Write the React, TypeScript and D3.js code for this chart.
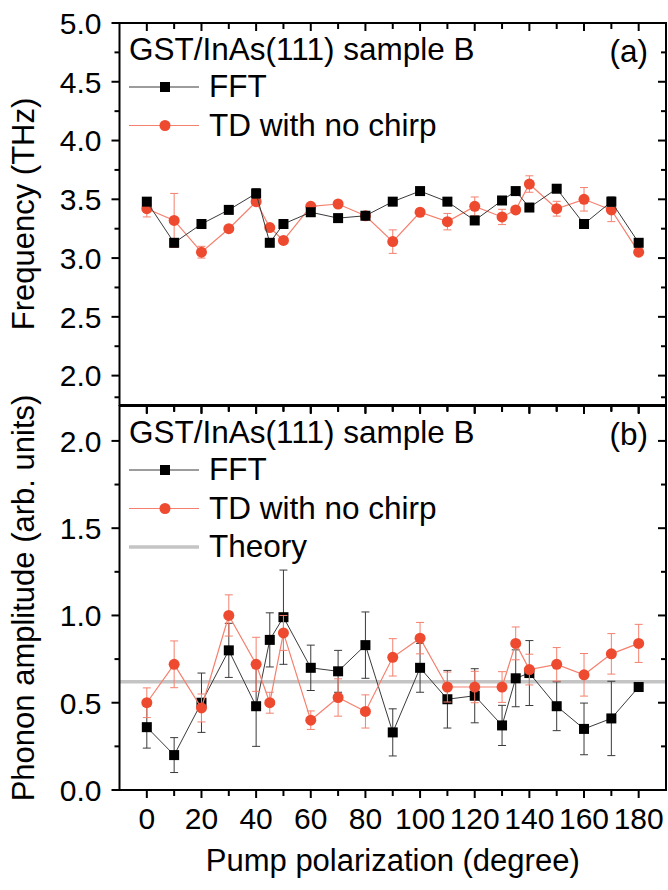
import React from 'react';
import * as d3 from 'd3';

const width = 668;
const height = 890;
const font = "'Liberation Sans', Arial, sans-serif";

// pump polarization angles (degree)
const angles = [0, 10, 20, 30, 40, 45, 50, 60, 70, 80, 90, 100, 110, 120, 130, 135, 140, 150, 160, 170, 180];

// panel (a): frequency (THz)
const freqFFT = [3.48, 3.13, 3.29, 3.41, 3.55, 3.13, 3.29, 3.39, 3.34, 3.36, 3.48, 3.57, 3.48, 3.32, 3.49, 3.57, 3.43, 3.59, 3.29, 3.48, 3.13];
const freqFFTErr = [0.03, 0.02, 0.01, 0.01, 0.04, 0.01, 0.01, 0.02, 0.01, 0.01, 0.01, 0.01, 0.01, 0.01, 0.01, 0.01, 0.01, 0.01, 0.01, 0.04, 0.01];
const freqTD = [3.42, 3.32, 3.05, 3.25, 3.48, 3.26, 3.15, 3.44, 3.46, 3.36, 3.14, 3.39, 3.31, 3.44, 3.35, 3.41, 3.63, 3.42, 3.5, 3.41, 3.05];
const freqTDErr = [0.07, 0.23, 0.05, 0.02, 0.03, 0.02, 0.02, 0.02, 0.02, 0.02, 0.1, 0.02, 0.07, 0.08, 0.065, 0.03, 0.07, 0.063, 0.1, 0.1, 0.02];

// panel (b): phonon amplitude (arb. units)
const ampFFT = [0.36, 0.2, 0.5, 0.8, 0.48, 0.86, 0.99, 0.7, 0.68, 0.83, 0.33, 0.7, 0.52, 0.54, 0.37, 0.64, 0.67, 0.48, 0.35, 0.41, 0.59];
const ampFFTErr = [0.12, 0.1, 0.17, 0.155, 0.23, 0.155, 0.27, 0.13, 0.12, 0.19, 0.135, 0.14, 0.165, 0.155, 0.115, 0.163, 0.186, 0.14, 0.148, 0.213, 0.02];
const ampTD = [0.5, 0.72, 0.47, 1.0, 0.72, 0.5, 0.9, 0.4, 0.53, 0.45, 0.76, 0.87, 0.59, 0.59, 0.59, 0.84, 0.69, 0.72, 0.66, 0.78, 0.84];
const ampTDErr = [0.085, 0.134, 0.08, 0.118, 0.155, 0.06, 0.1, 0.053, 0.107, 0.095, 0.107, 0.09, 0.086, 0.09, 0.088, 0.094, 0.088, 0.096, 0.122, 0.116, 0.109];
const theory = 0.62;

const xTickLabels = [0, 20, 40, 60, 80, 100, 120, 140, 160, 180];
const freqTickLabels = ['2.0', '2.5', '3.0', '3.5', '4.0', '4.5', '5.0'];
const ampTickLabels = ['0.0', '0.5', '1.0', '1.5', '2.0'];

const black = '#000';
const blackLine = '#3a3a3a';
const red = '#EE4A30';
const redLine = '#F5806E';
const gray = '#c4c4c4';

const x = d3.scaleLinear().domain([-10, 190]).range([119.5, 666]);
const yTop = d3.scaleLinear().domain([1.75, 5]).range([405, 23]);
const yBot = d3.scaleLinear().domain([0, 2.2]).range([790, 406]);

type Series = { vals: number[]; errs: number[] };

function ErrorBars({ s, y, color }: { s: Series; y: d3.ScaleLinear<number, number>; color: string }) {
  return (
    <g stroke={color} strokeWidth={1}>
      {angles.map((a, i) => {
        const cx = x(a);
        const y1 = y(s.vals[i] + s.errs[i]);
        const y2 = y(s.vals[i] - s.errs[i]);
        return (
          <g key={i}>
            <line x1={cx} x2={cx} y1={y1} y2={y2} />
            <line x1={cx - 4} x2={cx + 4} y1={y1} y2={y1} />
            <line x1={cx - 4} x2={cx + 4} y1={y2} y2={y2} />
          </g>
        );
      })}
    </g>
  );
}

function FFTSeries({ s, y }: { s: Series; y: d3.ScaleLinear<number, number> }) {
  const line = d3.line<number>().x((_, i) => x(angles[i])).y((v) => y(v));
  return (
    <g>
      <ErrorBars s={s} y={y} color={blackLine} />
      <path d={line(s.vals) || ''} fill="none" stroke={blackLine} strokeWidth={1} />
      {s.vals.map((v, i) => (
        <rect key={i} x={x(angles[i]) - 5} y={y(v) - 5} width={10} height={10} fill={black} />
      ))}
    </g>
  );
}

function TDSeries({ s, y }: { s: Series; y: d3.ScaleLinear<number, number> }) {
  const line = d3.line<number>().x((_, i) => x(angles[i])).y((v) => y(v));
  return (
    <g>
      <ErrorBars s={s} y={y} color={redLine} />
      <path d={line(s.vals) || ''} fill="none" stroke={redLine} strokeWidth={1.2} />
      {s.vals.map((v, i) => (
        <circle key={i} cx={x(angles[i])} cy={y(v)} r={5.5} fill={red} />
      ))}
    </g>
  );
}

function Frame({ y, majors, minors, labels, bottomLabels }: {
  y: d3.ScaleLinear<number, number>;
  majors: number[];
  minors: number[];
  labels: string[];
  bottomLabels: boolean;
}) {
  const [x0, x1] = x.range();
  const [yb, yt] = y.range();
  const xt = d3.range(0, 181, 10);
  return (
    <g>
      {/* left axis, outward ticks */}
      {majors.map((v) => (
        <line key={'lm' + v} x1={x0 - 8} x2={x0} y1={y(v)} y2={y(v)} stroke={black} strokeWidth={2} />
      ))}
      {minors.map((v) => (
        <line key={'ln' + v} x1={x0 - 5} x2={x0} y1={y(v)} y2={y(v)} stroke={black} strokeWidth={2} />
      ))}
      {/* right axis, inward ticks */}
      {majors.map((v) => (
        <line key={'rm' + v} x1={x1 - 8} x2={x1} y1={y(v)} y2={y(v)} stroke={black} strokeWidth={2} />
      ))}
      {minors.map((v) => (
        <line key={'rn' + v} x1={x1 - 5} x2={x1} y1={y(v)} y2={y(v)} stroke={black} strokeWidth={2} />
      ))}
      {/* top axis, inward ticks */}
      {xt.map((v) => (
        <line key={'t' + v} x1={x(v)} x2={x(v)} y1={yt} y2={yt + (v % 20 === 0 ? 8 : 6)} stroke={black} strokeWidth={2} />
      ))}
      {/* bottom axis, outward ticks */}
      {xt.map((v) => (
        <line key={'b' + v} x1={x(v)} x2={x(v)} y1={yb} y2={yb + (v % 20 === 0 ? 8 : 6)} stroke={black} strokeWidth={2} />
      ))}
      <rect x={x0} y={yt} width={x1 - x0} height={yb - yt} fill="none" stroke={black} strokeWidth={2} />
      {majors.map((v, i) => (
        <text key={'yl' + v} x={x0 - 18} y={y(v)} dy="0.36em" textAnchor="end" fontSize={30} fontFamily={font}>
          {labels[i]}
        </text>
      ))}
      {bottomLabels &&
        xTickLabels.map((v) => (
          <text key={'xl' + v} x={x(v)} y={829} textAnchor="middle" fontSize={30} fontFamily={font}>
            {v}
          </text>
        ))}
    </g>
  );
}

function Legend({ top, tag, withTheory }: { top: number; tag: string; withTheory: boolean }) {
  const lx0 = 129;
  const lx1 = 199;
  const mx = 165;
  const tx = 209;
  const rows = [
    { label: 'FFT', kind: 'fft' },
    { label: 'TD with no chirp', kind: 'td' },
    ...(withTheory ? [{ label: 'Theory', kind: 'theory' }] : []),
  ];
  return (
    <g fontFamily={font} fontSize={31.5}>
      <text x={129} y={top}>GST/InAs(111) sample B</text>
      <text x={648} y={top + 2} textAnchor="end">{tag}</text>
      {rows.map((r, i) => {
        const base = top + 37 + i * 38.5;
        const ly = base - 10;
        return (
          <g key={r.label}>
            {r.kind === 'fft' && (
              <g>
                <line x1={lx0} x2={lx1} y1={ly} y2={ly} stroke={blackLine} strokeWidth={1} />
                <rect x={mx - 5} y={ly - 5} width={10} height={10} fill={black} />
              </g>
            )}
            {r.kind === 'td' && (
              <g>
                <line x1={lx0} x2={lx1} y1={ly} y2={ly} stroke={redLine} strokeWidth={1.2} />
                <circle cx={mx} cy={ly} r={5.5} fill={red} />
              </g>
            )}
            {r.kind === 'theory' && (
              <line x1={lx0} x2={lx1} y1={ly} y2={ly} stroke={gray} strokeWidth={3.5} />
            )}
            <text x={tx} y={base}>{r.label}</text>
          </g>
        );
      })}
    </g>
  );
}

export default function App() {
  const freqMajors = freqTickLabels.map(Number);
  const freqMinors = freqMajors.slice(0, -1).map((v) => v + 0.25);
  const ampMajors = ampTickLabels.map(Number);
  const ampMinors = ampMajors.map((v) => v + 0.25);
  const [x0, x1] = x.range();

  return (
    <svg
      width={width}
      height={height}
      style={{ position: 'absolute', left: 0, top: 0, background: '#fff' }}
    >
      {/* panel (a) */}
      <Legend top={60} tag="(a)" withTheory={false} />
      <TDSeries s={{ vals: freqTD, errs: freqTDErr }} y={yTop} />
      <FFTSeries s={{ vals: freqFFT, errs: freqFFTErr }} y={yTop} />
      <Frame y={yTop} majors={freqMajors} minors={freqMinors} labels={freqTickLabels} bottomLabels={false} />

      {/* panel (b) */}
      <Legend top={443} tag="(b)" withTheory={true} />
      <line x1={x0} x2={x1} y1={yBot(theory)} y2={yBot(theory)} stroke={gray} strokeWidth={3.5} />
      <FFTSeries s={{ vals: ampFFT, errs: ampFFTErr }} y={yBot} />
      <TDSeries s={{ vals: ampTD, errs: ampTDErr }} y={yBot} />
      <Frame y={yBot} majors={ampMajors} minors={ampMinors} labels={ampTickLabels} bottomLabels={true} />

      {/* axis titles */}
      <text
        transform={`translate(34, ${(yTop.range()[0] + yTop.range()[1]) / 2}) rotate(-90)`}
        textAnchor="middle"
        fontSize={31}
        fontFamily={font}
      >
        Frequency (THz)
      </text>
      <text
        transform={`translate(34, ${(yBot.range()[0] + yBot.range()[1]) / 2}) rotate(-90)`}
        textAnchor="middle"
        fontSize={31}
        fontFamily={font}
      >
        Phonon amplitude (arb. units)
      </text>
      <text x={(x0 + x1) / 2} y={871} textAnchor="middle" fontSize={31} fontFamily={font}>
        Pump polarization (degree)
      </text>
    </svg>
  );
}
